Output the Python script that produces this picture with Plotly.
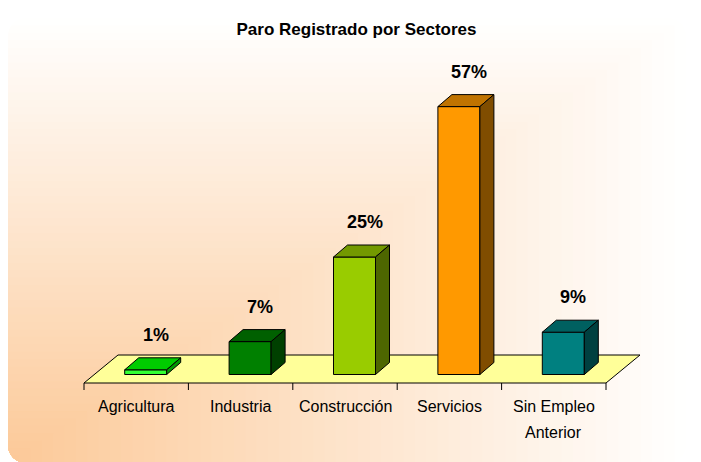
import base64
import plotly.graph_objects as go

# ---------------- data ----------------
title_text = "Paro Registrado por Sectores"
categories = ["Agricultura", "Industria", "Construcción", "Servicios", "Sin Empleo Anterior"]
tick_labels = ["Agricultura", "Industria", "Construcción", "Servicios", "Sin Empleo<br>Anterior"]
values = [1, 7, 25, 57, 9]
value_labels = ["1%", "7%", "25%", "57%", "9%"]
front_colors = ["#33FF33", "#008000", "#99CC00", "#FF9900", "#008080"]
top_colors = ["#00CC00", "#006000", "#739900", "#C07300", "#006060"]
side_colors = ["#009900", "#004000", "#4D6600", "#804D00", "#004040"]

# ---------------- geometry ----------------
W, H = 701, 462
OFF = 8               # page body margin: screen pixel = figure pixel + OFF
PX_X = 104.4          # pixels per category unit
PX_Y = 4.7            # pixels per percentage point
X0_PIX = 84 - OFF     # pixel of x = -0.5
BASE_PIX = 374.5 - OFF  # pixel of y = 0 (bar bottoms)

x_range = [-0.5 - X0_PIX / PX_X, -0.5 + (W - X0_PIX) / PX_X]
y_range = [-(H - BASE_PIX) / PX_Y, BASE_PIX / PX_Y]

def dx(px):
    return px / PX_X

def dy(px):
    return px / PX_Y

BAR_OFF = 9.5     # front face centre shift (px)
BAR_HALF = 21     # half width (px)
DEPTH_X, DEPTH_Y = 14, 12
FLOOR_FRONT = -dy((383 - OFF) - BASE_PIX)
FLOOR_BACK = dy(BASE_PIX - (355 - OFF))
FLOOR_DX = dx(34)

fig = go.Figure()

def poly(xs, ys, color):
    fig.add_trace(go.Scatter(
        x=xs + [xs[0]], y=ys + [ys[0]], mode="lines", fill="toself",
        fillcolor=color, line=dict(color="black", width=1),
        hoverinfo="skip", showlegend=False))

n = len(categories)
# floor
poly([-0.5, n - 0.5, n - 0.5 + FLOOR_DX, -0.5 + FLOOR_DX],
     [FLOOR_FRONT, FLOOR_FRONT, FLOOR_BACK, FLOOR_BACK], "#FFFF99")

# tick marks at category boundaries
tx, ty = [], []
for k in range(n + 1):
    tx += [k - 0.5, k - 0.5, None]
    ty += [FLOOR_FRONT, FLOOR_FRONT - dy(7), None]
fig.add_trace(go.Scatter(x=tx, y=ty, mode="lines", line=dict(color="black", width=1),
                         hoverinfo="skip", showlegend=False))

# bars
for i, v in enumerate(values):
    x0 = i + dx(BAR_OFF - BAR_HALF)
    x1 = i + dx(BAR_OFF + BAR_HALF)
    ddx, ddy = dx(DEPTH_X), dy(DEPTH_Y)
    poly([x0, x1, x1, x0], [0, 0, v, v], front_colors[i])
    poly([x0, x1, x1 + ddx, x0 + ddx], [v, v, v + ddy, v + ddy], top_colors[i])
    poly([x1, x1 + ddx, x1 + ddx, x1], [0, ddy, v + ddy, v], side_colors[i])

FONT = "Liberation Sans, Arial, sans-serif"
annotations = []
for i, v in enumerate(values):
    annotations.append(dict(
        x=i + dx(BAR_OFF + 10), y=v + dy(DEPTH_Y + 23), xref="x", yref="y",
        text=value_labels[i], showarrow=False, xanchor="center", yanchor="middle",
        font=dict(family=FONT, size=18, color="black", weight="bold")))
    for j, line in enumerate(tick_labels[i].split("<br>")):
        annotations.append(dict(
            x=i, y=FLOOR_FRONT, xref="x", yref="y", yshift=-(406 - 383) - 26 * j,
            text=line, showarrow=False, xanchor="center", yanchor="middle",
            font=dict(family=FONT, size=16, color="black")))

# background: corner gradient panel (SVG)
def mix(t):
    c0 = (0xFC, 0xC9, 0x98)
    c1 = (0xFF, 0xFF, 0xFF)
    return "#%02X%02X%02X" % tuple(round(a + (b - a) * t) for a, b in zip(c0, c1))

PL, PR, PT, PB = 8 - OFF, 686 - OFF, 18 - OFF, 463 - OFF
pw, ph = PR - PL, PB - PT
N = 60
rects = []
for k in range(N, 0, -1):
    t = k / N
    tm = (k - 0.5) / N
    rw, rh = pw * t, ph * t
    rects.append('<rect x="%.2f" y="%.2f" width="%.2f" height="%.2f" fill="%s"/>'
                 % (PL, PB - rh, rw, rh, mix(tm)))
svg = ('<svg xmlns="http://www.w3.org/2000/svg" width="%d" height="%d" viewBox="0 0 %d %d">'
       '<defs><clipPath id="c"><rect x="%d" y="%d" width="%d" height="%d" rx="18" ry="18"/></clipPath></defs>'
       '<rect x="0" y="0" width="%d" height="%d" fill="#FFFFFF"/>'
       '<g clip-path="url(#c)">%s</g></svg>'
       % (W, H, W, H, PL, PT, pw, ph, W, H, "".join(rects)))
src = "data:image/svg+xml;base64," + base64.b64encode(svg.encode()).decode()

fig.update_layout(
    width=W, height=H,
    margin=dict(l=0, r=0, t=0, b=0, pad=0),
    paper_bgcolor="white", plot_bgcolor="rgba(0,0,0,0)",
    title=dict(text="<b>" + title_text + "</b>", x=(356.5 - OFF) / W, y=1 - (29 - OFF) / H,
               xanchor="center", yanchor="middle", xref="paper", yref="paper",
               font=dict(family=FONT, size=17, color="black")),
    xaxis=dict(range=x_range, visible=False, fixedrange=True),
    yaxis=dict(range=y_range, visible=False, fixedrange=True),
    annotations=annotations,
    images=[dict(source=src, xref="paper", yref="paper", x=0, y=1, sizex=1, sizey=1,
                 xanchor="left", yanchor="top", sizing="stretch", layer="below")],
    showlegend=False,
)

fig.write_html("out.html")
